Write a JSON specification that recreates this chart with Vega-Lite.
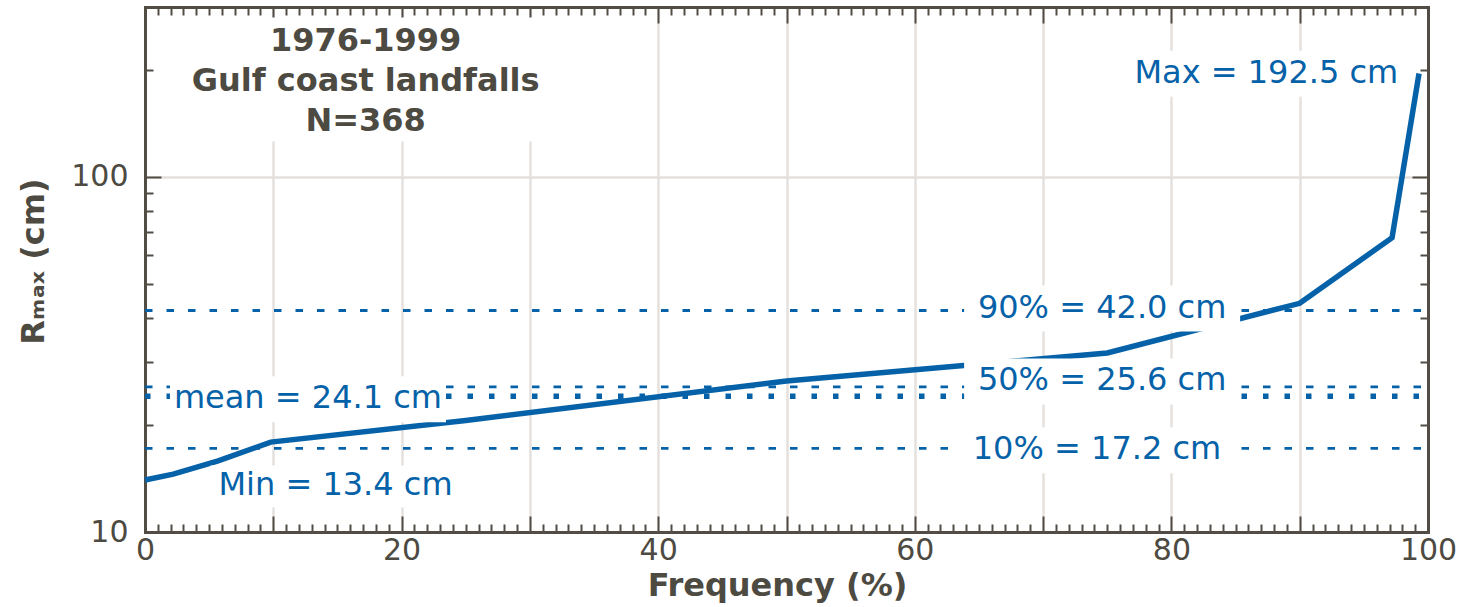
{
  "$schema": "https://vega.github.io/schema/vega-lite/v6.json",
  "width": 1283,
  "height": 525,
  "autosize": {"type": "none"},
  "padding": {"left": 145, "top": 7, "right": 43, "bottom": 75},
  "background": "white",
  "datasets": {
    "curve": [
      {"x": 0, "y": 14.0},
      {"x": 2.2, "y": 14.55},
      {"x": 5.7, "y": 15.85},
      {"x": 9.8, "y": 17.9},
      {"x": 25, "y": 20.6},
      {"x": 50, "y": 26.6},
      {"x": 75, "y": 31.9},
      {"x": 90, "y": 44.0},
      {"x": 97.2, "y": 67.3},
      {"x": 99.3, "y": 195}
    ],
    "refs": [{"y": 42.0}, {"y": 25.6}, {"y": 17.2}],
    "mean": [{"y": 24.1}],
    "labels": [
      {"label": "Max = 192.5 cm", "x": 87.4, "y": 196},
      {"label": "90% = 42.0 cm", "x": 74.6, "y": 42.8},
      {"label": "50% = 25.6 cm", "x": 74.6, "y": 26.7},
      {"label": "10% = 17.2 cm", "x": 74.2, "y": 17.1},
      {"label": "mean = 24.1 cm", "x": 12.7, "y": 23.8},
      {"label": "Min = 13.4 cm", "x": 14.85, "y": 13.6}
    ],
    "heading": [
      {"label": "1976-1999\nGulf coast landfalls\nN=368", "x": 17.2, "y": 240}
    ]
  },
  "config": {
    "view": {"stroke": null},
    "axis": {
      "domainColor": "#514d45",
      "domainWidth": 3,
      "domainCap": "square",
      "tickColor": "#514d45",
      "tickWidth": 2,
      "tickCap": "butt",
      "gridColor": "#e4e0dd",
      "gridWidth": 2.5,
      "labelFont": "DejaVu Sans",
      "labelFontSize": 30,
      "labelColor": "#4d4a42",
      "titleFont": "DejaVu Sans",
      "titleFontSize": 32,
      "titleFontWeight": "bold",
      "titleColor": "#4d4a42",
      "labelOverlap": false,
      "labelFlush": false,
      "labelBound": false
    }
  },
  "resolve": {"axis": {"x": "independent", "y": "independent"}},
  "layer": [
    {
      "data": {"name": "curve"},
      "mark": {"type": "line", "color": "#0562a8", "strokeWidth": 5.5},
      "encoding": {
        "x": {
          "field": "x", "type": "quantitative",
          "scale": {"domain": [0, 100], "nice": false, "zero": false},
          "axis": {"orient": "bottom", "values": [0, 20, 40, 60, 80, 100], "ticks": false, "tickSize": 0, "domain": true, "grid": false, "labelPadding": 3, "title": "Frequency (%)", "titlePadding": 5, "titleX": 632}
        },
        "y": {
          "field": "y", "type": "quantitative",
          "scale": {"type": "log", "domain": [10, 300], "nice": false},
          "axis": {"orient": "left", "values": [10, 100], "format": "d", "ticks": false, "tickSize": 0, "domain": true, "grid": false, "labelPadding": 17, "title": "Rₘₐₓ (cm)", "titlePadding": 20, "titleY": 254}
        }
      }
    },
    {
      "data": {"name": "refs"},
      "mark": {"type": "rule", "color": "#0562a8", "strokeWidth": 2.8, "strokeDash": [7.5, 14]},
      "encoding": {
        "x": {
          "datum": 0, "type": "quantitative",
          "axis": {"orient": "bottom", "values": [0, 10, 20, 30, 40, 50, 60, 70, 80, 90, 100], "ticks": true, "tickSize": -16, "labels": false, "domain": false, "grid": true, "title": null}
        },
        "x2": {"datum": 100},
        "y": {
          "field": "y", "type": "quantitative",
          "axis": {"orient": "left", "values": [10, 100], "ticks": true, "tickSize": -16, "labels": false, "domain": false, "grid": true, "title": null}
        }
      }
    },
    {
      "data": {"name": "mean"},
      "mark": {"type": "rule", "color": "#0562a8", "strokeWidth": 5.5, "strokeDash": [5.5, 16]},
      "encoding": {
        "x": {
          "datum": 0, "type": "quantitative",
          "axis": {"orient": "bottom", "values": [1,2,3,4,5,6,7,8,9,11,12,13,14,15,16,17,18,19,21,22,23,24,25,26,27,28,29,31,32,33,34,35,36,37,38,39,41,42,43,44,45,46,47,48,49,51,52,53,54,55,56,57,58,59,61,62,63,64,65,66,67,68,69,71,72,73,74,75,76,77,78,79,81,82,83,84,85,86,87,88,89,91,92,93,94,95,96,97,98,99], "ticks": true, "tickSize": -8, "labels": false, "domain": false, "grid": false, "title": null}
        },
        "x2": {"datum": 100},
        "y": {
          "field": "y", "type": "quantitative",
          "axis": {"orient": "left", "values": [20, 30, 40, 50, 60, 70, 80, 90, 200], "ticks": true, "tickSize": -8, "labels": false, "domain": false, "grid": false, "title": null}
        }
      }
    },
    {
      "data": {"name": "labels"},
      "transform": [{"filter": "datum.label !== 'Min = 13.4 cm'"}],
      "mark": {"type": "rect", "color": "white", "width": 276, "height": 46, "yOffset": 1},
      "encoding": {
        "x": {
          "field": "x", "type": "quantitative",
          "axis": {"orient": "top", "values": [0, 10, 20, 30, 40, 50, 60, 70, 80, 90, 100], "ticks": true, "tickSize": -16, "labels": false, "domain": true, "grid": false, "title": null}
        },
        "y": {
          "field": "y", "type": "quantitative",
          "axis": {"orient": "right", "values": [10, 100], "ticks": true, "tickSize": -16, "labels": false, "domain": true, "grid": false, "title": null}
        }
      }
    },
    {
      "data": {"name": "labels"},
      "transform": [{"filter": "datum.label === 'Min = 13.4 cm'"}],
      "mark": {"type": "rect", "color": "white", "width": 250, "height": 42, "yOffset": 2},
      "encoding": {
        "x": {"field": "x", "type": "quantitative", "axis": null},
        "y": {"field": "y", "type": "quantitative", "axis": null}
      }
    },
    {
      "data": {"name": "heading"},
      "mark": {"type": "rect", "color": "white", "width": 352, "height": 124, "yOffset": 38},
      "encoding": {
        "x": {"field": "x", "type": "quantitative", "axis": null},
        "y": {"field": "y", "type": "quantitative", "axis": null}
      }
    },
    {
      "data": {"name": "labels"},
      "mark": {"type": "text", "font": "DejaVu Sans", "fontSize": 32, "color": "#0562a8", "align": "center", "baseline": "middle"},
      "encoding": {
        "x": {
          "field": "x", "type": "quantitative",
          "axis": {"orient": "top", "values": [1,2,3,4,5,6,7,8,9,11,12,13,14,15,16,17,18,19,21,22,23,24,25,26,27,28,29,31,32,33,34,35,36,37,38,39,41,42,43,44,45,46,47,48,49,51,52,53,54,55,56,57,58,59,61,62,63,64,65,66,67,68,69,71,72,73,74,75,76,77,78,79,81,82,83,84,85,86,87,88,89,91,92,93,94,95,96,97,98,99], "ticks": true, "tickSize": -8, "labels": false, "domain": false, "grid": false, "title": null}
        },
        "y": {
          "field": "y", "type": "quantitative",
          "axis": {"orient": "right", "values": [20, 30, 40, 50, 60, 70, 80, 90, 200], "ticks": true, "tickSize": -8, "labels": false, "domain": false, "grid": false, "title": null}
        },
        "text": {"field": "label"}
      }
    },
    {
      "data": {"name": "heading"},
      "mark": {"type": "text", "font": "DejaVu Sans", "fontSize": 32, "fontWeight": "bold", "lineBreak": "\n", "lineHeight": 40, "color": "#4d4a42", "align": "center", "baseline": "middle"},
      "encoding": {
        "x": {"field": "x", "type": "quantitative", "axis": null},
        "y": {"field": "y", "type": "quantitative", "axis": null},
        "text": {"field": "label"}
      }
    }
  ]
}
